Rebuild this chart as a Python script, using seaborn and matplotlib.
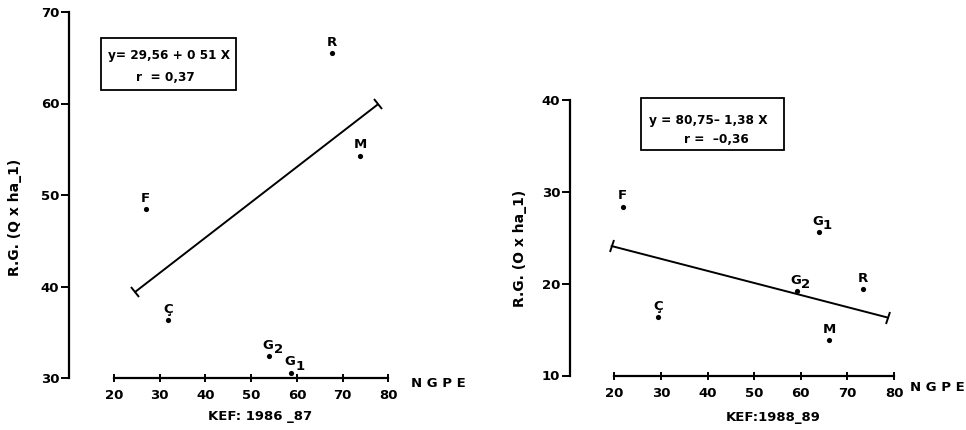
import numpy as np
import pandas as pd
import seaborn as sns
import matplotlib.pyplot as plt
from matplotlib.markers import MarkerStyle
from matplotlib.transforms import Affine2D

sns.set_style("ticks")
plt.rcParams['font.family'] = ['DejaVu Sans']
plt.rcParams['font.weight'] = 'bold'
plt.rcParams['axes.linewidth'] = 1.6
for key in ("text.color", "axes.labelcolor", "xtick.color", "ytick.color",
            "axes.edgecolor"):
    plt.rcParams[key] = "black"

# ---- season 1986-87 ----
labels_8687 = ["R", "M", "F", "Ç", "G2", "G1"]
ngpe_8687 = [67.7, 73.9, 26.9, 31.9, 54.0, 58.8]
rg_8687 = [65.5, 54.3, 48.5, 36.3, 32.4, 30.6]
fit_x_8687 = [24.6, 77.7]
fit_y_8687 = [39.4, 59.9]
eq_8687 = ["y= 29,56 + 0 51 X", "r  = 0,37"]

# ---- season 1988-89 ----
labels_8889 = ["F", "G1", "G2", "R", "Ç", "M"]
ngpe_8889 = [21.8, 63.8, 59.1, 73.4, 29.4, 66.1]
rg_8889 = [28.4, 25.6, 19.2, 19.4, 16.4, 13.9]
fit_x_8889 = [19.4, 78.7]
fit_y_8889 = [24.1, 16.3]
eq_8889 = ["y = 80,75– 1,38 X", "r =  –0,36"]

x_ticks = [20, 30, 40, 50, 60, 70, 80]
y_ticks_8687 = [30, 40, 50, 60, 70]
y_ticks_8889 = [10, 20, 30, 40]

W, H = 966, 430
fig = plt.figure(figsize=(W / 100, H / 100), dpi=100)


def frac(l, t, r, b):
    return [l / W, 1 - b / H, (r - l) / W, (b - t) / H]


ax1 = fig.add_axes(frac(69, 12, 397, 378))
ax2 = fig.add_axes(frac(570, 100, 903, 375.5))


def panel(ax, xs, ys, names, fx, fy, eq, yticks, xlim, ylabel, xlabel,
          box, eqpos, ylabpos, xlabpos, ngpepos):
    ax.set_xlim(*xlim)
    ax.set_ylim(yticks[0], yticks[-1])
    df = pd.DataFrame({"x": xs, "y": ys, "name": names})
    sns.scatterplot(data=df, x="x", y="y", ax=ax, color="black", s=14,
                    edgecolor="black", linewidth=0, zorder=3)
    fit = pd.DataFrame({"x": fx, "y": fy})
    sns.lineplot(data=fit, x="x", y="y", ax=ax, color="black", lw=1.4,
                 zorder=2)
    # perpendicular end caps on the fitted segment
    p = ax.transData.transform(np.column_stack([fx, fy]))
    ang = np.degrees(np.arctan2(p[1, 1] - p[0, 1], p[1, 0] - p[0, 0]))
    cap = MarkerStyle("|", transform=Affine2D().rotate_deg(ang))
    ax.plot(fx, fy, ls="none", marker=cap, ms=9, mew=1.4, color="black")

    for x, y, n in zip(xs, ys, names):
        if len(n) > 1:
            ax.annotate(n[0], (x, y), xytext=(3, 3), textcoords="offset points",
                        ha="right", va="bottom", fontsize=9.5)
            ax.annotate(n[1:], (x, y), xytext=(3, 0), textcoords="offset points",
                        ha="left", va="bottom", fontsize=9.5)
        else:
            ax.annotate(n, (x, y), xytext=(0, 3), textcoords="offset points",
                        ha="center", va="bottom", fontsize=9.5)

    sns.despine(ax=ax)
    ax.spines["bottom"].set_bounds(x_ticks[0], x_ticks[-1])
    ax.spines["left"].set_bounds(yticks[0], yticks[-1])
    ax.set_xticks(x_ticks)
    ax.set_yticks(yticks)
    ax.tick_params(axis="x", direction="inout", length=6, width=1.4, pad=5,
                   labelsize=9.5)
    ax.tick_params(axis="y", direction="out", length=6, width=1.4, pad=1,
                   labelsize=9.5)
    for lab in ax.get_xticklabels() + ax.get_yticklabels():
        lab.set_fontweight("bold")
    ax.set_xlabel("")
    ax.set_ylabel("")

    ax.add_patch(plt.Rectangle((box[0], box[1]), box[2] - box[0],
                               box[3] - box[1], transform=ax.transAxes,
                               fill=False, lw=1.3, color="black",
                               clip_on=False))
    ax.text(eqpos[0], eqpos[1], eq[0], transform=ax.transAxes, ha="center",
            va="center", fontsize=8.7)
    ax.text(eqpos[2], eqpos[3], eq[1], transform=ax.transAxes, ha="center",
            va="center", fontsize=8.7)
    ax.text(ylabpos[0], ylabpos[1], ylabel, transform=ax.transAxes,
            rotation=90, ha="center", va="center", fontsize=10)
    ax.text(xlabpos[0], xlabpos[1], xlabel, transform=ax.transAxes,
            ha="center", va="center", fontsize=9.5)
    ax.text(ngpepos[0], ngpepos[1], "N G P E", transform=ax.transAxes,
            ha="left", va="center", fontsize=9.5)


panel(ax1, ngpe_8687, rg_8687, labels_8687, fit_x_8687, fit_y_8687, eq_8687,
      y_ticks_8687, (10.15, 81.9), "R.G. (Q x ha_1)", "KEF: 1986 _87",
      (0.097, 0.787, 0.509, 0.930), (0.305, 0.880, 0.293, 0.822),
      (-0.165, 0.44), (0.582, -0.104), (1.043, -0.014))

panel(ax2, ngpe_8889, rg_8889, labels_8889, fit_x_8889, fit_y_8889, eq_8889,
      y_ticks_8889, (10.5, 81.9), "R.G. (O x ha_1)", "KEF:1988_89",
      (0.213, 0.817, 0.643, 1.007), (0.414, 0.925, 0.441, 0.857),
      (-0.15, 0.463), (0.609, -0.151), (1.02, -0.044))

fig.savefig("out.png", dpi=100)
